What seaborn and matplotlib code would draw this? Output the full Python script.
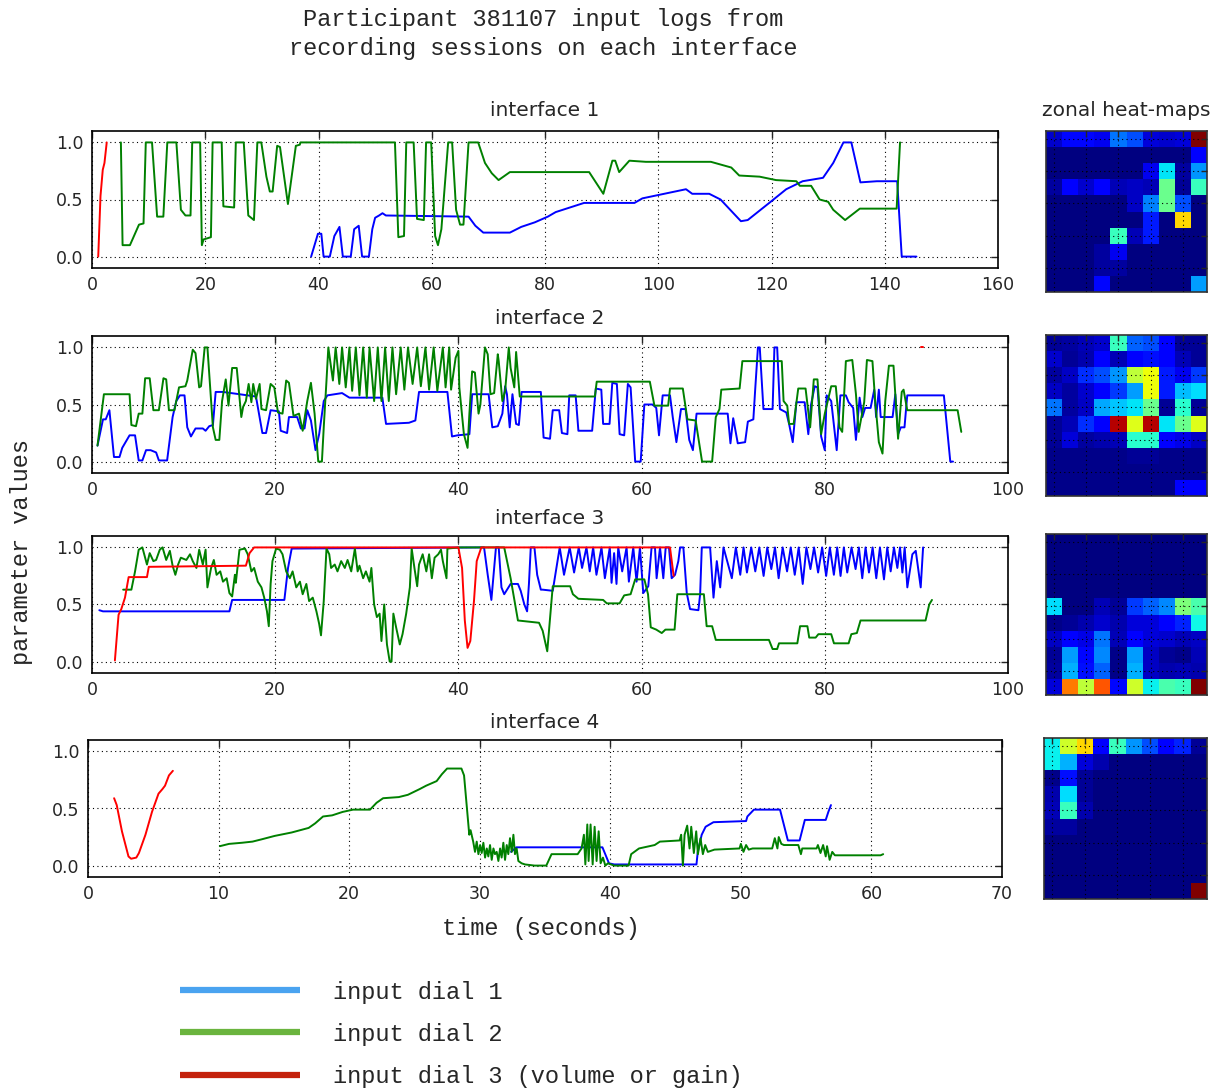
import numpy as np
import pandas as pd
import matplotlib
matplotlib.use("Agg")
import matplotlib.pyplot as plt
from matplotlib.lines import Line2D
import seaborn as sns

sns.set_style("white")
plt.rcParams['font.family'] = ['DejaVu Sans']

# ---------------- data ----------------
# interface 1
i1_d1_t = [38.7, 39.9, 40.5, 40.9, 42.0, 42.8, 43.7, 44.3, 45.7, 46.3, 47.1, 47.7, 48.9, 49.5, 50.0, 50.7,
           51.3, 51.9, 66.5, 67.7, 69.1, 73.8, 75.8, 78.2, 80.5, 81.9, 86.9, 95.8, 97.2, 104.9, 106.0,
           109.0, 111.0, 114.6, 115.8, 119.6, 122.6, 125.5, 129.1, 130.9, 132.7, 134.1, 135.7, 138.6,
           142.2, 143.0, 145.6]
i1_d1_v = [0.0, 0.20, 0.20, 0.0, 0.0, 0.18, 0.26, 0.0, 0.0, 0.24, 0.27, 0.0, 0.0, 0.24, 0.34, 0.36,
           0.38, 0.36, 0.35, 0.27, 0.21, 0.21, 0.26, 0.30, 0.35, 0.39, 0.47, 0.47, 0.51, 0.59, 0.55,
           0.55, 0.50, 0.31, 0.32, 0.47, 0.59, 0.66, 0.69, 0.82, 1.0, 1.0, 0.65, 0.66,
           0.66, 0.0, 0.0]
i1_d2_t = [5.1, 5.4, 6.7, 8.3, 9.1, 9.5, 10.6, 11.5, 12.6, 13.3, 14.9, 15.7, 16.5, 17.4, 17.7, 19.1,
           19.4, 19.7, 21.0, 21.3, 22.9, 23.2, 25.1, 25.4, 26.8, 27.6, 28.6, 29.2, 29.9, 30.8, 31.4,
           31.9, 32.7, 33.2, 34.6, 36.0, 36.7, 36.8, 53.5, 54.1, 55.1, 55.5, 56.8, 57.4, 58.6, 59.0,
           59.9, 60.6, 61.1, 61.7, 62.9, 63.6, 64.3, 65.0, 65.6, 66.5, 68.2, 69.4, 70.6, 71.8, 73.8,
           87.8, 90.3, 91.9, 92.4, 93.1, 94.9, 97.8, 109.3, 112.9, 114.3, 117.9, 120.8, 124.4, 125.0,
           127.0, 128.5, 130.0, 130.9, 133.0, 135.6, 142.1, 142.7]
i1_d2_v = [1.0, 0.10, 0.10, 0.28, 0.29, 1.0, 1.0, 0.35, 0.35, 1.0, 1.0, 0.41, 0.36, 0.36, 1.0, 1.0,
           0.10, 0.15, 0.17, 1.0, 1.0, 0.44, 0.43, 1.0, 1.0, 0.36, 0.32, 1.0, 1.0, 0.70, 0.57,
           0.57, 0.97, 0.96, 0.46, 0.97, 0.98, 1.0, 1.0, 0.17, 0.18, 1.0, 1.0, 0.33, 0.32, 1.0,
           1.0, 0.18, 0.10, 0.24, 1.0, 1.0, 0.41, 0.28, 0.28, 1.0, 1.0, 0.82, 0.73, 0.67, 0.74,
           0.74, 0.55, 0.84, 0.84, 0.74, 0.84, 0.83, 0.83, 0.78, 0.71, 0.70, 0.67, 0.66, 0.62,
           0.62, 0.50, 0.48, 0.41, 0.32, 0.42, 0.42, 1.0]
i1_d3_t = [1.1, 1.5, 1.9, 2.2, 2.6]
i1_d3_v = [0.0, 0.53, 0.76, 0.82, 1.0]
heat1 = [[0.07, 0.13, 0.13, 0.10, 0.24, 0.20, 0.08, 0.07, 0.08, 1.00],
         [0.00, 0.00, 0.00, 0.00, 0.00, 0.00, 0.00, 0.00, 0.00, 0.12],
         [0.00, 0.00, 0.00, 0.00, 0.00, 0.00, 0.10, 0.35, 0.03, 0.27],
         [0.03, 0.12, 0.07, 0.12, 0.05, 0.06, 0.05, 0.48, 0.02, 0.42],
         [0.00, 0.00, 0.00, 0.00, 0.00, 0.06, 0.25, 0.48, 0.20, 0.00],
         [0.00, 0.00, 0.00, 0.00, 0.00, 0.00, 0.15, 0.00, 0.68, 0.00],
         [0.00, 0.00, 0.00, 0.00, 0.42, 0.05, 0.15, 0.00, 0.00, 0.00],
         [0.00, 0.00, 0.00, 0.03, 0.10, 0.00, 0.00, 0.00, 0.00, 0.00],
         [0.00, 0.00, 0.00, 0.03, 0.03, 0.00, 0.00, 0.00, 0.00, 0.00],
         [0.00, 0.00, 0.00, 0.13, 0.00, 0.00, 0.00, 0.00, 0.00, 0.28]]

# interface 2
i2_d1_t = [0.6, 1.2, 1.5, 1.9, 2.4, 3.0, 3.3, 4.1, 4.7, 5.1, 5.5, 5.9, 6.4, 7.0, 7.3, 8.2, 8.8, 9.2,
           9.6, 10.1, 10.4, 10.8, 11.3, 12.1, 12.4, 12.8, 13.2, 13.5, 14.3, 17.9, 18.3, 18.6, 19.0,
           19.5, 20.4, 20.6, 21.3, 21.5, 22.4, 22.8, 23.2, 23.5, 23.9, 24.4, 24.8, 25.3, 25.7, 27.3,
           28.1, 31.7, 32.1, 34.6, 35.3, 35.7, 38.8, 39.3, 39.9, 41.2, 41.5, 43.3, 43.7, 44.3, 44.8,
           45.1, 45.3, 45.6, 45.9, 46.3, 46.6, 46.9, 49.0, 49.3, 50.0, 50.3, 51.0, 51.3, 51.9, 52.1,
           52.8, 53.1, 54.6, 55.0, 55.6, 55.8, 56.5, 56.8, 57.3, 57.6, 58.1, 58.5, 58.8, 59.3, 59.9,
           60.3, 61.2, 61.6, 61.9, 62.3, 63.1, 63.4, 63.8, 64.3, 64.8, 65.2, 65.6, 66.0, 69.4, 69.7,
           70.0, 70.5, 71.3, 71.6, 72.2, 72.4, 72.7, 72.9, 73.3, 74.3, 74.5, 74.8, 75.1, 75.8, 76.1,
           76.5, 76.9, 77.8, 78.2, 78.5, 78.9, 79.2, 79.6, 80.0, 80.2, 80.7, 81.3, 81.7, 82.3, 82.6,
           83.1, 83.4, 83.8, 84.1, 84.4, 85.0, 85.4, 85.6, 85.9, 86.1, 87.4, 87.7, 88.0, 88.3, 88.7,
           89.0, 93.0, 93.7, 94.0]
i2_d1_v = [0.14, 0.37, 0.37, 0.45, 0.04, 0.04, 0.12, 0.23, 0.23, 0.01, 0.01, 0.10, 0.10, 0.08, 0.01,
           0.01, 0.39, 0.53, 0.58, 0.58, 0.30, 0.22, 0.29, 0.29, 0.27, 0.31, 0.32, 0.61, 0.61, 0.57,
           0.39, 0.25, 0.25, 0.45, 0.44, 0.27, 0.25, 0.39, 0.39, 0.29, 0.29, 0.45, 0.36, 0.10, 0.24,
           0.53, 0.58, 0.60, 0.56, 0.56, 0.33, 0.34, 0.36, 0.61, 0.61, 0.22, 0.23, 0.24, 0.59, 0.59,
           0.30, 0.31, 0.42, 0.66, 0.59, 0.30, 0.59, 0.33, 0.32, 0.61, 0.61, 0.21, 0.20, 0.45, 0.45,
           0.25, 0.24, 0.58, 0.58, 0.27, 0.27, 0.64, 0.63, 0.33, 0.33, 0.69, 0.68, 0.24, 0.23, 0.68,
           0.65, 0.0, 0.0, 0.50, 0.50, 0.47, 0.23, 0.58, 0.58, 0.39, 0.17, 0.46, 0.46, 0.19, 0.10,
           0.42, 0.42, 0.16, 0.38, 0.16, 0.17, 0.35, 0.37, 0.63, 1.0, 1.0, 0.46, 0.46, 1.0, 1.0, 0.46,
           0.43, 0.33, 0.17, 0.52, 0.52, 0.24, 0.50, 0.66, 0.65, 0.22, 0.10, 0.58, 0.53, 0.10, 0.58,
           0.58, 0.52, 0.47, 0.19, 0.56, 0.39, 0.47, 0.47, 0.63, 0.39, 0.63, 0.39, 0.39, 0.59, 0.24,
           0.30, 0.30, 0.58, 0.58, 0.0, 0.0]
i2_d2_t = [0.6, 1.3, 4.1, 4.3, 4.8, 5.1, 5.5, 5.8, 6.3, 6.7, 7.3, 7.8, 8.1, 8.4, 9.0, 9.5, 10.2, 10.4,
           11.0, 11.3, 11.7, 11.9, 12.3, 12.6, 13.2, 13.5, 13.9, 14.2, 14.6, 14.9, 15.3, 15.8, 16.3,
           16.5, 16.8, 17.1, 17.4, 17.6, 17.9, 18.3, 18.5, 19.0, 19.5, 19.9, 20.3, 20.8, 21.2, 21.5,
           22.0, 22.6, 23.0, 23.5, 23.9, 24.3, 24.7, 25.1, 25.3, 25.6,
           25.8, 26.3, 26.6, 27.0, 27.3, 27.7, 28.1, 28.4, 28.8, 29.2, 29.6, 30.0, 30.3, 30.8, 31.2,
           31.6, 32.0, 32.4, 32.8, 33.2, 33.7, 34.1, 34.5, 35.0, 35.5, 35.9, 36.4, 36.8, 37.3, 37.7,
           38.3, 38.6, 39.0, 39.2, 39.7, 40.0, 40.1, 40.6, 41.0, 41.2, 41.5, 41.8, 42.2, 42.4, 42.9,
           43.2, 43.5, 43.9, 44.3, 44.4, 44.8, 45.1, 45.5, 45.7, 46.1, 46.3, 46.7, 54.9, 55.1, 60.9,
           61.4, 62.9, 63.1, 64.5, 65.0, 65.9, 66.6, 67.7, 68.1, 68.5, 68.7, 70.7, 71.0, 75.3, 75.5,
           75.9, 76.1, 76.6, 77.1, 77.9, 78.4, 78.8, 79.2, 79.6, 80.0, 80.7, 81.2, 81.6, 81.9, 82.3,
           83.0, 83.4, 83.7, 84.3, 84.6, 85.2, 85.5, 85.9, 86.3, 86.6, 87.0, 87.5, 88.0, 88.4, 88.6,
           89.0, 94.5, 94.9]
i2_d2_v = [0.14, 0.59, 0.59, 0.32, 0.31, 0.42, 0.42, 0.73, 0.73, 0.45, 0.45, 0.73, 0.72, 0.45, 0.45,
           0.65, 0.66, 0.71, 0.98, 0.95, 0.65, 0.66, 1.0, 1.0, 0.30, 0.19, 0.19, 0.53, 0.72, 0.49,
           0.82, 0.82, 0.39, 0.48, 0.53, 0.68, 0.52, 0.68, 0.55, 0.68, 0.46, 0.45, 0.68, 0.65, 0.43,
           0.42, 0.71, 0.69, 0.40, 0.42, 0.27, 0.53, 0.69, 0.42, 0.0, 0.0, 0.30, 0.71,
           1.0, 0.71, 1.0, 0.68, 1.0, 0.65, 1.0, 0.62, 1.0, 0.58, 1.0, 0.56, 1.0, 0.53, 1.0,
           0.53, 1.0, 0.53, 1.0, 0.59, 1.0, 0.63, 1.0, 0.68, 1.0, 0.66, 1.0, 0.63, 1.0, 0.62,
           1.0, 0.65, 1.0, 0.63, 0.91, 0.97, 0.65, 0.24, 0.12, 0.42, 0.79, 0.78, 0.42, 0.50, 1.0,
           0.94, 0.59, 0.60, 0.94, 0.88, 0.53, 0.62, 1.0, 0.82, 0.65, 0.96, 0.57, 0.57, 0.70, 0.70,
           0.49, 0.49, 0.64, 0.64, 0.37, 0.36, 0.0, 0.0, 0.39, 0.46, 0.63, 0.64, 0.88, 0.88, 0.53,
           0.49, 0.33, 0.33, 0.64, 0.64, 0.30, 0.72, 0.72, 0.24, 0.42, 0.66, 0.66, 0.30, 0.26, 0.88,
           0.89, 0.59, 0.26, 0.52, 0.89, 0.88, 0.53, 0.17, 0.07, 0.53, 0.84, 0.84, 0.20, 0.61, 0.63,
           0.45, 0.45, 0.26]
i2_d3_t = [90.5, 90.7]
i2_d3_v = [1.0, 1.0]
heat2 = [[0.02, 0.03, 0.05, 0.07, 0.42, 0.22, 0.20, 0.12, 0.02, 0.02],
         [0.07, 0.02, 0.04, 0.11, 0.05, 0.12, 0.14, 0.11, 0.05, 0.02],
         [0.03, 0.06, 0.17, 0.20, 0.27, 0.58, 0.64, 0.15, 0.10, 0.18],
         [0.06, 0.03, 0.07, 0.11, 0.18, 0.28, 0.64, 0.15, 0.31, 0.34],
         [0.24, 0.03, 0.06, 0.29, 0.32, 0.35, 0.48, 0.02, 0.40, 0.02],
         [0.02, 0.05, 0.17, 0.11, 0.95, 0.62, 0.95, 0.35, 0.48, 0.62],
         [0.02, 0.08, 0.03, 0.04, 0.05, 0.40, 0.40, 0.11, 0.09, 0.06],
         [0.01, 0.01, 0.01, 0.01, 0.01, 0.02, 0.02, 0.01, 0.01, 0.01],
         [0.01, 0.01, 0.01, 0.01, 0.01, 0.01, 0.01, 0.01, 0.01, 0.01],
         [0.01, 0.01, 0.01, 0.01, 0.01, 0.01, 0.01, 0.01, 0.12, 0.12]]

# interface 3
i3_d1_t = [0.8, 1.2, 15.0, 15.3, 21.0, 21.4, 21.8, 41.9, 42.8, 43.2, 43.6, 43.9, 44.1, 44.4, 44.7,
           45.0, 45.7, 46.5, 46.8, 47.2, 47.5, 47.7, 47.9, 48.3, 48.6, 49.0, 49.2, 50.3, 50.7,
           51.06, 51.53, 52.15, 52.63, 53.14, 53.50, 53.98, 54.34, 54.71, 55.07, 55.62, 55.99, 56.53,
           56.72, 57.00, 57.26, 57.45, 57.88, 58.36, 58.61, 59.09, 59.45, 59.82, 60.18, 60.73, 61.09,
           61.46, 61.64, 62.01, 62.37, 62.63, 62.99, 63.28, 63.65, 64.01, 64.20, 64.56, 64.93, 65.29,
           66.20, 66.39, 66.57, 67.48, 67.85, 68.21, 68.58, 68.94, 69.85, 70.29, 70.77, 71.13, 71.50,
           71.97, 72.41, 72.85, 73.32, 73.72, 74.16, 74.56, 74.96, 75.40, 75.88, 76.28, 76.72, 77.15,
           77.59, 77.99, 78.43, 78.83, 79.27, 79.71, 80.15, 80.55, 80.99, 81.35, 81.72, 82.08, 82.45,
           82.92, 83.36, 83.72, 84.09, 84.45, 84.82, 85.22, 85.62, 86.02, 86.46, 86.82, 87.19, 87.55,
           87.92, 88.21, 88.47, 88.72, 89.01, 89.56, 89.93, 90.47, 90.73]
i3_d1_v = [0.45, 0.44, 0.44, 0.54, 0.54, 0.82, 0.99, 1.0, 1.0, 0.76, 0.54, 0.82, 1.0, 1.0, 0.65,
           0.59, 0.68, 0.68, 0.62, 0.50, 0.44, 0.68, 1.0, 1.0, 0.76, 0.63, 0.63, 0.62, 0.82,
           1.0, 0.76, 1.0, 0.78, 1.0, 0.82, 1.0, 0.79, 1.0, 0.76, 1.0, 0.73, 1.0,
           0.69, 0.95, 0.68, 1.0, 0.79, 1.0, 0.70, 1.0, 0.70, 1.0, 0.60, 0.66, 1.0,
           1.0, 0.73, 1.0, 0.73, 1.0, 1.0, 0.73, 0.76, 0.88, 1.0, 1.0, 0.60, 0.46,
           0.45, 0.59, 1.0, 1.0, 0.56, 0.88, 0.65, 1.0, 0.73, 1.0, 0.76, 1.0, 0.78,
           1.0, 0.79, 1.0, 0.75, 1.0, 0.81, 1.0, 0.73, 1.0, 0.79, 1.0, 0.76, 1.0,
           0.68, 1.0, 0.81, 1.0, 0.78, 1.0, 0.75, 1.0, 0.76, 1.0, 0.75, 1.0, 0.78,
           1.0, 0.81, 1.0, 0.73, 1.0, 0.78, 1.0, 0.73, 1.0, 0.72, 1.0, 0.79, 1.0,
           0.82, 1.0, 0.78, 1.0, 0.65, 0.94, 0.97, 0.65, 1.0]
i3_d2_t = [3.4, 4.3, 4.7, 5.1, 5.5, 5.7, 6.0, 6.3, 6.7, 7.0, 7.4, 7.7, 8.1, 8.5, 8.8, 9.1, 9.4, 9.7,
           10.3, 10.7, 11.0, 11.4, 11.7, 12.1, 12.4, 12.6, 13.0, 13.3, 13.6, 14.0, 14.3, 14.7, 15.0,
           15.3, 15.6, 15.7, 16.1, 16.7, 17.0, 17.4, 17.7, 18.1, 18.5, 18.8, 19.1, 19.3, 19.5, 19.7,
           20.1, 20.5, 20.8, 21.2, 21.6, 21.9, 22.3, 22.7, 23.0, 23.4, 23.7, 24.1, 24.5, 24.8, 25.0,
           25.3, 25.6, 25.9, 26.1, 26.5, 26.8, 27.2, 27.6, 27.9, 28.3, 28.7, 29.0, 29.2, 29.6, 29.9,
           30.3, 30.5, 30.8, 31.1, 31.4, 31.6, 31.9, 32.2, 32.5, 32.7, 32.9, 33.2, 33.6, 33.9, 34.3,
           34.7, 34.9, 35.2, 35.5, 35.7, 36.1, 36.5, 36.8, 37.1, 37.4, 37.8, 38.1, 38.3, 38.7, 38.8,
           40.1, 45.0, 45.7, 46.5, 48.8, 49.2, 49.7, 50.3, 52.2, 52.5, 53.1, 55.8, 56.2, 57.6, 58.1,
           58.8, 59.3, 60.3, 60.7, 61.0, 61.6, 62.2, 62.6, 63.6, 63.9, 66.8, 67.1, 67.7, 68.1, 73.9,
           74.3, 74.8, 75.0, 77.0, 77.3, 78.1, 78.3, 79.0, 79.3, 80.7, 81.0, 82.6, 82.9, 83.5, 83.9,
           91.0, 91.4, 91.7]
i3_d2_v = [0.63, 0.63, 0.79, 0.98, 1.0, 0.94, 0.85, 0.95, 0.88, 0.89, 0.98, 1.0, 0.89, 0.97, 0.84,
           0.76, 0.85, 0.91, 0.89, 0.94, 0.88, 0.82, 0.98, 0.85, 0.98, 0.65, 0.82, 0.89, 0.76, 0.79,
           0.70, 0.73, 0.60, 0.57, 0.76, 0.69, 0.98, 0.99, 0.94, 0.79, 0.82, 0.70, 0.65, 0.56, 0.44,
           0.31, 0.68, 0.88, 0.99, 0.98, 0.94, 0.79, 0.73, 0.79, 0.65, 0.70, 0.59, 0.68, 0.53, 0.56,
           0.44, 0.33, 0.23, 0.53, 0.99, 0.94, 0.82, 0.85, 0.79, 0.88, 0.82, 0.89, 0.79, 0.99, 0.79,
           0.84, 0.73, 0.79, 0.70, 0.82, 0.50, 0.39, 0.42, 0.18, 0.50, 0.15, 0.0, 0.0, 0.42, 0.30,
           0.15, 0.24, 0.42, 0.65, 0.99, 0.82, 0.66, 0.85, 0.94, 0.79, 0.94, 0.73, 0.91, 0.94, 0.98,
           0.88, 0.73, 0.99, 1.0, 1.0, 0.73, 0.36, 0.34, 0.27, 0.09, 0.66, 0.66, 0.59, 0.55, 0.54,
           0.51, 0.51, 0.58, 0.59, 0.72, 0.72, 0.59, 0.30, 0.28, 0.25, 0.28, 0.28, 0.59, 0.59, 0.31,
           0.31, 0.19, 0.19, 0.11, 0.11, 0.16, 0.16, 0.31, 0.31, 0.21, 0.21, 0.24, 0.24, 0.16, 0.16,
           0.24, 0.25, 0.36, 0.36, 0.50, 0.54]
i3_d3_t = [2.5, 2.9, 3.2, 3.6, 4.0, 6.0, 6.2, 16.8, 17.2, 17.7, 40.0, 40.4, 40.7, 41.0, 41.3, 41.7,
           42.0, 42.5, 63.1, 63.5]
i3_d3_v = [0.01, 0.41, 0.46, 0.56, 0.74, 0.74, 0.83, 0.84, 0.95, 1.0, 1.0, 0.82, 0.36, 0.12, 0.18,
           0.53, 0.88, 1.0, 1.0, 0.75]
heat3 = [[0.00, 0.00, 0.00, 0.00, 0.00, 0.00, 0.00, 0.00, 0.00, 0.00],
         [0.00, 0.00, 0.00, 0.00, 0.00, 0.00, 0.00, 0.00, 0.00, 0.00],
         [0.00, 0.00, 0.00, 0.00, 0.00, 0.00, 0.00, 0.00, 0.00, 0.00],
         [0.00, 0.00, 0.00, 0.00, 0.00, 0.00, 0.00, 0.00, 0.00, 0.00],
         [0.34, 0.00, 0.00, 0.05, 0.02, 0.18, 0.22, 0.26, 0.50, 0.44],
         [0.01, 0.02, 0.04, 0.07, 0.04, 0.08, 0.08, 0.11, 0.16, 0.37],
         [0.06, 0.12, 0.09, 0.24, 0.05, 0.11, 0.08, 0.07, 0.05, 0.06],
         [0.02, 0.28, 0.13, 0.26, 0.01, 0.28, 0.06, 0.02, 0.01, 0.05],
         [0.03, 0.30, 0.14, 0.22, 0.01, 0.30, 0.06, 0.04, 0.05, 0.04],
         [0.08, 0.78, 0.58, 0.82, 0.13, 0.60, 0.36, 0.44, 0.42, 1.00]]

# interface 4
i4_d1_t = [32.4, 32.8, 39.4, 39.9, 40.3, 46.6, 46.7, 47.0, 47.3, 47.9, 50.4, 50.5, 51.0, 53.0, 53.6,
           54.5, 54.9, 56.5, 56.7, 56.9]
i4_d1_v = [0.12, 0.16, 0.16, 0.02, 0.01, 0.01, 0.12, 0.27, 0.34, 0.38, 0.39, 0.43, 0.49, 0.49, 0.22,
           0.22, 0.40, 0.40, 0.47, 0.53]
i4_d2_t = [10.1, 10.8, 11.8, 12.6, 13.3, 14.3, 15.6, 16.9, 17.4, 18.0, 18.7, 19.5, 20.3, 21.6, 22.1,
           22.6, 23.8, 24.5, 25.4, 25.9, 26.7, 27.1, 27.5, 28.6, 28.8, 29.0, 29.2, 29.3, 29.5,
           29.64, 29.77, 29.90, 30.03, 30.15, 30.28, 30.41, 30.54, 30.66, 30.79, 30.92, 31.05, 31.17,
           31.30, 31.43, 31.56, 31.68, 31.81, 31.94, 32.07, 32.19, 32.32, 32.45, 32.58, 32.70, 32.83,
           32.96, 33.21, 33.47, 34.2, 35.1, 35.5, 35.7, 37.5, 37.8, 37.98, 38.09, 38.24, 38.34, 38.49,
           38.65, 38.80, 38.95, 39.11, 39.26, 39.44, 39.62, 39.82, 40.3, 41.4, 41.6, 42.2, 43.4, 43.8,
           45.31, 45.43, 45.56, 45.69, 45.89, 46.07, 46.20, 46.40, 46.58, 46.71, 46.91, 47.09, 47.27,
           47.47, 47.98, 49.9, 50.0, 50.2, 50.4, 50.6, 50.9, 52.4, 52.6, 52.8, 52.9, 53.1, 53.3,
           54.4, 54.6, 54.7, 55.8, 55.9, 56.1, 56.3, 56.5, 56.6, 56.8, 57.0, 57.2, 60.7, 60.9]
i4_d2_v = [0.17, 0.19, 0.20, 0.21, 0.23, 0.26, 0.29, 0.33, 0.37, 0.43, 0.44, 0.47, 0.49, 0.49, 0.55,
           0.59, 0.60, 0.62, 0.67, 0.70, 0.74, 0.80, 0.85, 0.85, 0.79, 0.53, 0.27, 0.31, 0.21,
           0.12, 0.21, 0.10, 0.18, 0.11, 0.20, 0.07, 0.15, 0.08, 0.18, 0.05, 0.15, 0.10,
           0.12, 0.04, 0.15, 0.07, 0.20, 0.05, 0.18, 0.10, 0.24, 0.12, 0.27, 0.10, 0.15,
           0.04, 0.02, 0.01, 0.0, 0.0, 0.10, 0.10, 0.10, 0.15, 0.27, 0.01, 0.36, 0.04, 0.36,
           0.01, 0.34, 0.04, 0.30, 0.02, 0.07, 0.0, 0.02, 0.0, 0.0, 0.10, 0.15, 0.18, 0.21,
           0.22, 0.27, 0.0, 0.27, 0.35, 0.15, 0.34, 0.11, 0.30, 0.10, 0.24, 0.10, 0.18,
           0.12, 0.14, 0.15, 0.19, 0.12, 0.18, 0.14, 0.15, 0.15, 0.24, 0.15, 0.25, 0.19, 0.18,
           0.18, 0.10, 0.15, 0.15, 0.18, 0.11, 0.18, 0.08, 0.17, 0.05, 0.12, 0.09, 0.09, 0.10]
i4_d3_t = [2.0, 2.2, 2.6, 3.1, 3.3, 3.7, 3.9, 4.4, 4.9, 5.4, 5.7, 5.9, 6.2, 6.5]
i4_d3_v = [0.59, 0.53, 0.30, 0.08, 0.06, 0.07, 0.11, 0.27, 0.47, 0.63, 0.67, 0.70, 0.79, 0.83]
heat4 = [[0.36, 0.60, 0.68, 0.12, 0.42, 0.27, 0.20, 0.12, 0.16, 0.02],
         [0.36, 0.30, 0.08, 0.04, 0.00, 0.00, 0.00, 0.00, 0.00, 0.00],
         [0.01, 0.14, 0.02, 0.00, 0.00, 0.00, 0.00, 0.00, 0.00, 0.00],
         [0.04, 0.34, 0.02, 0.00, 0.00, 0.00, 0.00, 0.00, 0.00, 0.00],
         [0.05, 0.42, 0.04, 0.00, 0.00, 0.00, 0.00, 0.00, 0.00, 0.00],
         [0.03, 0.03, 0.00, 0.00, 0.00, 0.00, 0.00, 0.00, 0.00, 0.00],
         [0.00, 0.00, 0.00, 0.00, 0.00, 0.00, 0.00, 0.00, 0.00, 0.00],
         [0.00, 0.00, 0.00, 0.00, 0.00, 0.00, 0.00, 0.00, 0.00, 0.00],
         [0.00, 0.00, 0.00, 0.00, 0.00, 0.00, 0.00, 0.00, 0.00, 0.00],
         [0.00, 0.00, 0.00, 0.00, 0.00, 0.00, 0.00, 0.00, 0.00, 1.00]]

x_limits = [160, 100, 100, 70]
x_steps = [20, 20, 20, 10]
legend_labels = ["input dial 1", "input dial 2", "input dial 3 (volume or gain)"]
legend_colors = ["#4aa3f0", "#6ab43e", "#c4220c"]

# ---------------- layout (pixels) ----------------
W, H = 1222, 1089
fig = plt.figure(figsize=(W / 100, H / 100), dpi=100)
fig.patch.set_facecolor("white")


def box(l, t, r, b):
    return [l / W, 1 - b / H, (r - l) / W, (b - t) / H]


line_boxes = [(92, 131, 998, 268), (92, 336, 1008, 473), (92, 536, 1008, 673), (88, 740, 1002, 877)]
heat_boxes = [(1046, 131, 1207, 292), (1046, 335, 1207, 496), (1046, 534, 1207, 695), (1044, 738, 1207, 899)]
title_y = [111, 319, 519, 723]

series = [
    [(i1_d1_t, i1_d1_v), (i1_d2_t, i1_d2_v), (i1_d3_t, i1_d3_v)],
    [(i2_d1_t, i2_d1_v), (i2_d2_t, i2_d2_v), (i2_d3_t, i2_d3_v)],
    [(i3_d1_t, i3_d1_v), (i3_d2_t, i3_d2_v), (i3_d3_t, i3_d3_v)],
    [(i4_d1_t, i4_d1_v), (i4_d2_t, i4_d2_v), (i4_d3_t, i4_d3_v)],
]
heats = [heat1, heat2, heat3, heat4]
line_colors = ["b", "g", "r"]
grid_kw = dict(color="k", lw=0.8, dashes=(1, 3))

for k in range(4):
    ax = fig.add_axes(box(*line_boxes[k]))
    # dial 1, dial 2, then dial 3 on top
    for j, (t, v) in enumerate(series[k]):
        sns.lineplot(x=t, y=v, ax=ax, color=line_colors[j], lw=1.4,
                     estimator=None, sort=False, legend=False)
    ax.set_xlim(0, x_limits[k])
    ax.set_ylim(-0.1, 1.1)
    ax.set_xticks(np.arange(0, x_limits[k] + 1, x_steps[k]))
    ax.set_yticks([0.0, 0.5, 1.0])
    ax.set_yticklabels(["0.0", "0.5", "1.0"])
    ax.grid(True, **grid_kw)
    ax.tick_params(direction="in", top=True, right=True, length=5, width=1,
                   labelsize=12.5, pad=6)
    for s in ax.spines.values():
        s.set_visible(True)
        s.set_color("k")
        s.set_linewidth(1.2)
    ax.set_xlabel("")
    ax.set_ylabel("")
    l, t, r, b = line_boxes[k]
    fig.text((l + r) / 2 / W, 1 - title_y[k] / H, "interface %d" % (k + 1),
             ha="center", va="center", fontsize=14.5)

    hx = fig.add_axes(box(*heat_boxes[k]))
    sns.heatmap(pd.DataFrame(heats[k]), ax=hx, cmap="jet", vmin=0, vmax=1, cbar=False,
                xticklabels=False, yticklabels=False)
    hx.set_xticks([0.5, 2.5, 4.5, 6.5, 8.5])
    hx.set_yticks([0.5, 2.5, 4.5, 6.5, 8.5])
    hx.set_xticklabels([])
    hx.set_yticklabels([])
    hx.set_axisbelow(False)
    hx.grid(True, **grid_kw)
    hx.tick_params(direction="in", top=True, right=True, length=4, width=1)
    for s in hx.spines.values():
        s.set_visible(True)
        s.set_color("#333333")
        s.set_linewidth(1.2)

fig.text(1126 / W, 1 - 111 / H, "zonal heat-maps", ha="center", va="center", fontsize=14.5)

mono = "Liberation Mono"
fig.text(543 / W, 1 - 34 / H, "Participant 381107 input logs from\nrecording sessions on each interface",
         ha="center", va="center", fontsize=17, family=mono, linespacing=1.35)
fig.text(541 / W, 1 - 928 / H, "time (seconds)", ha="center", va="center", fontsize=17, family=mono)
fig.text(22 / W, 1 - 552 / H, "parameter values", ha="center", va="center", rotation=90,
         fontsize=17, family=mono)

for lab, col, yy in zip(legend_labels, legend_colors, [990, 1032, 1075]):
    fig.add_artist(Line2D([180 / W, 300 / W], [1 - yy / H, 1 - yy / H], color=col, lw=4.5,
                          transform=fig.transFigure, solid_capstyle="butt"))
    fig.text(333 / W, 1 - (yy + 2) / H, lab, ha="left", va="center", fontsize=17, family=mono)

fig.savefig("out.png", dpi=100, facecolor="white")
